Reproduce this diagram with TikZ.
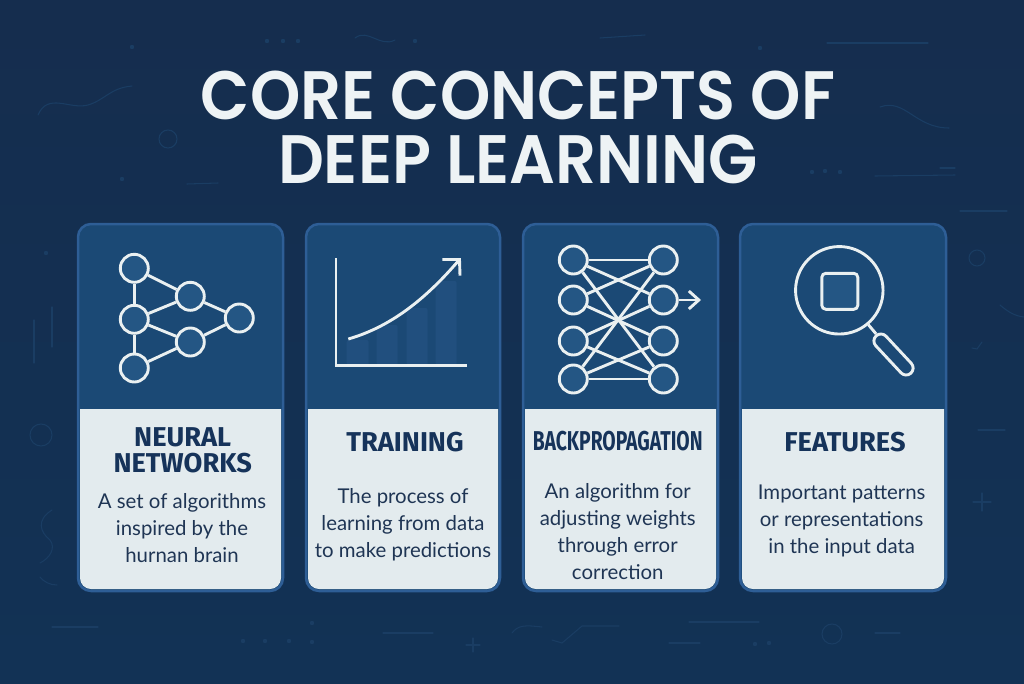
\documentclass[tikz,border=0pt]{standalone}
\usepackage{fontspec}
\setmainfont{Lato}
\newfontfamily\titlefont[UprightFont={* SemiBold}, FakeStretch=0.935]{Poppins}
\newfontfamily\headfont{Fira Sans}
\newfontfamily\headcondfont[FakeStretch=0.71]{Fira Sans}
\usetikzlibrary{arrows.meta, positioning}

\definecolor{pagetop}{HTML}{152D4E}
\definecolor{pagebottom}{HTML}{123255}
\definecolor{faint}{HTML}{1A3D63}
\definecolor{cardblue}{HTML}{1B4975}
\definecolor{cardedge}{HTML}{2E5E96}
\definecolor{cardlight}{HTML}{E3EBEE}
\definecolor{iconline}{HTML}{EAF0F1}
\definecolor{iconfill}{HTML}{245684}
\definecolor{barfill}{HTML}{214F7E}
\definecolor{inkhead}{HTML}{16335A}
\definecolor{inkbody}{HTML}{1F3554}
\definecolor{titleink}{HTML}{EEF3F5}

\tikzset{
    icon/.style = {draw=iconline, line width=0.058cm},
    neuron/.style = {icon, circle, fill=iconfill, inner sep=0pt, minimum size=0.56cm},
    cardtitle/.style = {text=inkhead, font=\headfont\bfseries\fontsize{15.5}{15.2}\selectfont, align=center, anchor=base, inner sep=0pt},
    cardtext/.style = {text=inkbody, font=\fontsize{11.6}{15.3}\selectfont, align=center, anchor=base, inner sep=0pt},
    faintline/.style = {draw=faint, line width=0.6pt, line cap=round},
    faintdot/.style = {fill=faint, circle, inner sep=0pt, minimum size=2.5pt}
}

\begin{document}
\begin{tikzpicture}[x=0.02cm, y=-0.02cm]
            \useasboundingbox (0, 0) rectangle (1024, 683);
            \shade [top color=pagetop, bottom color=pagebottom] (0, 0) rectangle (1024, 683);

            \draw [faintline] (38, 115) .. controls (48, 92) and (70, 110) .. (88, 105) .. controls (105, 100) and (110, 88) .. (132, 86);
            \draw [faintline] (168, 139) circle (9);
            \draw [faintline] (187, 184) -- (218, 183);
            \draw [faintline] (355, 38) .. controls (368, 28) and (380, 48) .. (395, 40);
            \draw [faintline] (600, 38) --++ (45, -3);
            \draw [faintline] (827, 43) --++ (101, 0);
            \draw [faintline] (880, 107) .. controls (905, 98) and (915, 128) .. (949, 128);
            \draw [faintline] (875, 176) --++ (80, -1);
            \draw [faintline] (940, 168) --++ (15, 0);
            \draw [faintline] (960, 211) --++ (47, 0);
            \draw [faintline] (977, 258) circle (8);
            \draw [faintline] (1000, 305) .. controls (1008, 312) and (1015, 316) .. (1024, 317);
            \draw [faintline] (972, 348) --++ (5, 1) --++ (5, -7);
            \draw [faintline] (978, 430) --++ (27, 0);
            \draw [faintline] (982, 493) --++ (0, 18) (973, 502) --++ (18, 0);
            \draw [faintline] (34, 320) --++ (0, 43);
            \draw [faintline] (52, 307) --++ (0, 40);
            \draw [faintline] (41, 435) circle (11);
            \draw [faintline] (52, 510) .. controls (36, 520) and (40, 532) .. (50, 540) .. controls (56, 548) and (50, 558) .. (40, 563);
            \draw [faintline] (40, 577) .. controls (44, 582) and (50, 585) .. (57, 585);
            \draw [faintline] (52, 627) --++ (46, 0);
            \draw [faintline] (383, 633) --++ (50, 0);
            \draw [faintline] (473, 638) --++ (0, 14) (466, 645) --++ (14, 0);
            \draw [faintline] (512, 633) .. controls (518, 625) and (525, 625) .. (542, 627);
            \draw [faintline] (552, 640) --++ (10, 3) --++ (20, -17) --++ (37, 0);
            \draw [faintline] (689, 622) --++ (70, 0);
            \draw [faintline] (669, 643) --++ (31, 0);
            \draw [faintline] (832, 634) circle (10);
            \draw [faintline] (875, 633) --++ (25, 0);
            \foreach \dotx/\doty in {132/47, 267/41, 283/41, 298/41, 415/41, 122/179, 760/48, 812/172, 825/171, 840/172, 46/253, 243/641, 265/641, 289/641, 312/642, 312/623, 755/644, 769/643}
                \node [faintdot] at (\dotx, \doty) {};

            \node [text=titleink, font=\titlefont\fontsize{39}{36}\selectfont, align=center, anchor=base, inner sep=0pt] (title) at (518, 183) {CORE CONCEPTS OF\\DEEP LEARNING};

            \foreach \cardname/\xa/\xb in {neural/78/283, training/306/500, backprop/523/718, features/740/946} {
                \draw [draw=cardedge, fill=cardblue, line width=0.05cm, rounded corners=0.26cm] (\xa, 224) rectangle (\xb, 591);
                \fill [cardlight] (\xa+2, 409) -- (\xb-2, 409) [rounded corners=0.22cm] -- (\xb-2, 589) -- (\xa+2, 589) [sharp corners] -- cycle;
            }

            \node [neuron] (na) at (134.3, 268.3) {};
            \node [neuron] (nb) at (134.3, 319.3) {};
            \node [neuron] (nc) at (134.3, 368) {};
            \node [neuron] (nd) at (190.3, 296.3) {};
            \node [neuron] (ne) at (190.3, 342) {};
            \node [neuron] (nf) at (239.3, 318) {};
            \foreach \from/\to in {na/nb, nb/nc, na/nd, nb/nd, nb/ne, nc/ne, nd/nf, ne/nf}
                \draw [icon] (\from) -- (\to);

            \foreach \barx/\bary/\barw in {346.7/340/22, 376.7/325/21, 406.7/308/21, 435.7/281/21}
                \fill [barfill, rounded corners=0.04cm] (\barx, 365) rectangle (\barx+\barw, \bary);
            \coordinate (axistop) at (336, 258);
            \coordinate (axiscorner) at (336, 365.3);
            \coordinate (axisend) at (466.7, 365.3);
            \coordinate (growstart) at (348.3, 339);
            \coordinate (growend) at (459.5, 259.5);
            \coordinate (headleft) at (442.3, 259.5);
            \coordinate (headdown) at (460, 275.7);
            \draw [icon] (axistop) -- (axiscorner) -- (axisend);
            \draw [icon] (growstart) .. controls (390, 327) and (425, 300) .. (growend);
            \draw [icon] (headleft) -- (growend) -- (headdown);

            \foreach \row/\rowy in {1/260, 2/300, 3/341, 4/379} {
                \node [neuron] (l\row) at (573.3, \rowy) {};
                \node [neuron] (r\row) at (663.3, \rowy) {};
            }
            \foreach \from/\to in {1/1, 1/2, 1/4, 2/1, 2/3, 3/2, 3/4, 4/1, 4/3, 4/4}
                \draw [icon] (l\from) -- (r\to);
            \coordinate (outend) at (701, 300);
            \draw [icon, -{Straight Barb[length=0.2cm, width=0.36cm]}] (r2) -- (outend);

            \node [icon, circle, inner sep=0pt, minimum size=1.75cm] (lens) at (839.3, 290.3) {};
            \node [icon, fill=iconfill, rounded corners=0.08cm, inner sep=0pt, minimum size=0.72cm] (lenssquare) at (839.8, 291.3) {};
            \node [icon, rounded corners=0.14cm, rotate=-47, inner sep=0pt, minimum width=1.02cm, minimum height=0.28cm] (handle) at (893.5, 354.5) {};
            \draw [icon] (lens) -- (handle);

            \node [cardtitle] (neuraltitle) at (182.7, 472.7) {NEURAL\\NETWORKS};
            \node [cardtext] (neuraltext) at (182, 562) {A set of algorithms\\inspired by the\\hurnan brain};
            \node [cardtitle] (trainingtitle) at (405, 451.7) {TRAINING};
            \node [cardtext] (trainingtext) at (403, 557) {The process of\\learning from data\\to make predictions};
            \node [cardtitle, font=\headcondfont\bfseries\fontsize{15.5}{15.2}\selectfont] (backproptitle) at (617.7, 450) {BACKPROPAGATION};
            \node [cardtext] (backproptext) at (617.7, 579) {An algorithm for\\adjusting weights\\through error\\correction};
            \node [cardtitle] (featurestitle) at (845, 451.7) {FEATURES};
            \node [cardtext] (featurestext) at (841.7, 553) {Important patterns\\or representations\\in the input data};
        \end{tikzpicture}
\end{document}
